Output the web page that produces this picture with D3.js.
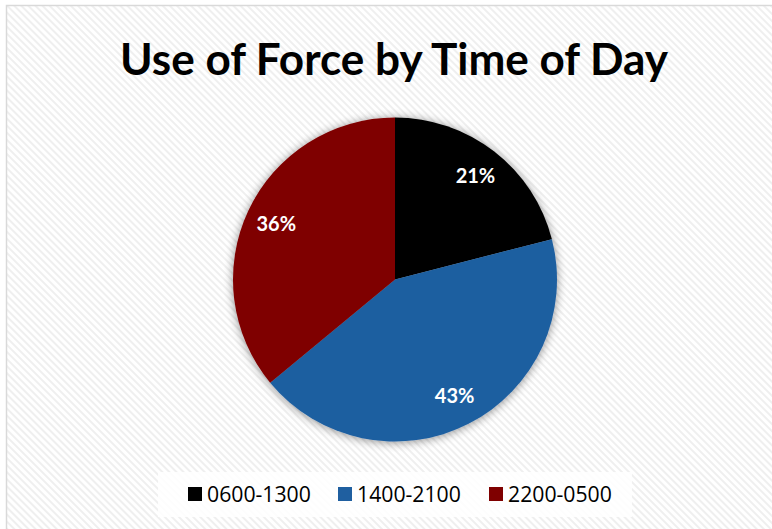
<!DOCTYPE html>
<html>
<head>
<meta charset="utf-8">
<script src="https://cdn.jsdelivr.net/npm/d3@7"></script>
<style>
  html, body { margin: 0; padding: 0; background: #fff; }
  svg { display: block; }
</style>
</head>
<body>
<svg id="chart" width="772" height="529"></svg>
<script>
// Chart data
const categories = ["0600-1300", "1400-2100", "2200-0500"];
const values = [21, 43, 36];
const colors = ["#000000", "#1f5fa0", "#7f0000"];
const title = "Use of Force by Time of Day";

const W = 772, H = 529;
const svg = d3.select("#chart");
const defs = svg.append("defs");

// diagonal hatch background
const pat = defs.append("pattern")
  .attr("id", "hatch")
  .attr("patternUnits", "userSpaceOnUse")
  .attr("width", 5).attr("height", 5)
  .attr("patternTransform", "rotate(-45)");
pat.append("rect").attr("width", 5).attr("height", 5).attr("fill", "#ffffff");
pat.append("rect").attr("width", 2).attr("height", 5).attr("fill", "#efefef");

// soft shadow around the pie
const f = defs.append("filter").attr("id", "glow")
  .attr("x", "-20%").attr("y", "-20%").attr("width", "140%").attr("height", "140%");
f.append("feGaussianBlur").attr("in", "SourceAlpha").attr("stdDeviation", 5).attr("result", "b");
f.append("feOffset").attr("in", "b").attr("dx", 0).attr("dy", 1).attr("result", "o");
f.append("feComponentTransfer").attr("in", "o").attr("result", "s")
  .append("feFuncA").attr("type", "linear").attr("slope", 0.45);
const m = f.append("feMerge");
m.append("feMergeNode").attr("in", "s");
m.append("feMergeNode").attr("in", "SourceGraphic");

svg.append("rect").attr("width", W).attr("height", H).attr("fill", "#ffffff");
svg.append("rect")
  .attr("x", 6.5).attr("y", 5.5)
  .attr("width", W + 10).attr("height", H + 10)
  .attr("fill", "url(#hatch)")
  .attr("stroke", "#d9d9d9").attr("stroke-width", 1.5);

// Title, sized to its span
const FONT = "Lato, 'Open Sans', 'DejaVu Sans', sans-serif";
const t = svg.append("text")
  .attr("x", 394).attr("y", 75)
  .attr("text-anchor", "middle")
  .attr("font-family", FONT)
  .attr("font-weight", "bold")
  .attr("font-size", 40)
  .attr("fill", "#000")
  .text(title);
const tw = t.node().getComputedTextLength();
t.attr("font-size", 40 * 548 / tw);

// Pie
const cx = 395, cy = 279.5, r = 162;
const pie = d3.pie().sort(null).value(d => d)(values);
const arc = d3.arc().innerRadius(0).outerRadius(r);
const g = svg.append("g").attr("transform", `translate(${cx},${cy})`);
g.append("g").attr("filter", "url(#glow)")
  .selectAll("path").data(pie).join("path")
  .attr("d", arc)
  .attr("fill", (d, i) => colors[i]);

const total = d3.sum(values);
const labelArc = d3.arc().innerRadius(r * 0.81).outerRadius(r * 0.81);
g.selectAll("text.lbl").data(pie).join("text")
  .attr("class", "lbl")
  .attr("transform", d => `translate(${labelArc.centroid(d)})`)
  .attr("text-anchor", "middle")
  .attr("dy", "0.35em")
  .attr("font-family", FONT)
  .attr("font-weight", "bold")
  .attr("font-size", 20)
  .attr("fill", "#ffffff")
  .text(d => Math.round(d.data / total * 100) + "%");

// Legend
const lg = svg.append("g");
lg.append("rect")
  .attr("x", 158).attr("y", 472).attr("width", 474).attr("height", 45)
  .attr("fill", "#ffffff").attr("fill-opacity", 0.85);
const itemX = [188, 338, 489];
const items = lg.selectAll("g.item").data(categories).join("g")
  .attr("class", "item")
  .attr("transform", (d, i) => `translate(${itemX[i]},487)`);
items.append("rect").attr("width", 14).attr("height", 14)
  .attr("fill", (d, i) => colors[i]);
items.append("text")
  .attr("x", 19).attr("y", 14.5)
  .attr("font-family", "'Open Sans', Lato, sans-serif")
  .attr("font-size", 21)
  .attr("fill", "#000")
  .text(d => d)
  .each(function () {
    const w = this.getComputedTextLength();
    d3.select(this).attr("font-size", 21 * 104 / w);
  });
</script>
</body>
</html>
